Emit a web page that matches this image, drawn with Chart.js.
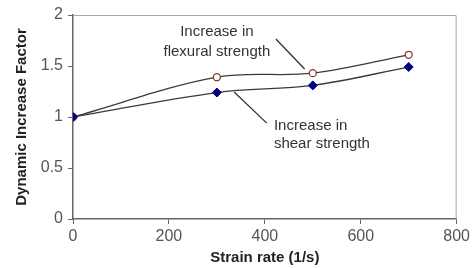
<!DOCTYPE html>
<html>
<head>
<meta charset="utf-8">
<script src="https://cdn.jsdelivr.net/npm/chart.js@4/dist/chart.umd.min.js"></script>
<style>
  html, body { margin: 0; padding: 0; background: #fff; }
  #wrap { width: 473px; height: 268px; }
</style>
</head>
<body>
<div id="wrap"><canvas id="dif" width="473" height="268"></canvas></div>
<script>
// values
const strainRate = [0, 300, 500, 700]
const flexuralDIF = [1, 1.39, 1.43, 1.61]
const shearDIF = [1, 1.24, 1.31, 1.49]
const xTicks = [0, 200, 400, 600, 800]
const yTicks = [0, 0.5, 1, 1.5, 2]

// callout text, anchored in data units
const notes = [
    { lines: ['Increase in', 'flexural strength'], x: 300, y: [1.83, 1.64], align: 'center', leader: [423, 1.765, 483, 1.47] },
    { lines: ['Increase in', 'shear strength'], x: 419, y: [0.91, 0.735], align: 'left', leader: [336, 1.245, 404, 0.94] }
]

const toPoints = (xs, ys) => xs.map((x, i) => ({ x: x, y: ys[i] }))

const notesPlugin = {
    id: 'notes',
    beforeDatasetsDraw(chart) {
        const { ctx, chartArea: a } = chart
        ctx.save()
        // light frame on top and right
        ctx.strokeStyle = '#a8a8a8'
        ctx.lineWidth = 1
        ctx.beginPath()
        ctx.moveTo(a.left, a.top + 0.5)
        ctx.lineTo(a.right - 0.5, a.top + 0.5)
        ctx.lineTo(a.right - 0.5, a.bottom)
        ctx.stroke()
        ctx.restore()
    },
    afterDatasetsDraw(chart) {
        const { ctx, scales: { x, y } } = chart
        ctx.save()
        ctx.font = '15px "Liberation Sans", Arial, sans-serif'
        ctx.fillStyle = '#333'
        ctx.textBaseline = 'middle'
        notes.forEach(n => {
            ctx.textAlign = n.align
            n.lines.forEach((t, i) => ctx.fillText(t, x.getPixelForValue(n.x), y.getPixelForValue(n.y[i])))
            const l = n.leader
            ctx.strokeStyle = '#333'
            ctx.lineWidth = 1.3
            ctx.beginPath()
            ctx.moveTo(x.getPixelForValue(l[0]), y.getPixelForValue(l[1]))
            ctx.lineTo(x.getPixelForValue(l[2]), y.getPixelForValue(l[3]))
            ctx.stroke()
        })
        ctx.restore()
    }
}

const tickFont = { family: '"Liberation Sans", Arial, sans-serif', size: 16 }
const titleFont = { family: '"Liberation Sans", Arial, sans-serif', size: 15, weight: 'bold' }

new Chart(document.getElementById('dif'), {
    type: 'scatter',
    data: {
        datasets: [
            {
                label: 'Increase in shear strength',
                data: toPoints(strainRate, shearDIF),
                showLine: true,
                tension: 0.35,
                borderColor: '#3a3a3a',
                borderWidth: 1.3,
                pointStyle: 'rectRot',
                pointRadius: 4.5,
                pointBackgroundColor: '#000080',
                pointBorderColor: '#000080',
                pointBorderWidth: 1
            },
            {
                label: 'Increase in flexural strength',
                data: toPoints(strainRate, flexuralDIF),
                showLine: true,
                tension: 0.35,
                borderColor: '#3a3a3a',
                borderWidth: 1.3,
                pointStyle: 'circle',
                pointRadius: 3.5,
                pointBackgroundColor: '#fff',
                pointBorderColor: '#8a3b34',
                pointBorderWidth: 1.3
            }
        ]
    },
    options: {
        responsive: false,
        animation: false,
        events: [],
        layout: { padding: { top: 15, right: 14, left: 0, bottom: 0 } },
        plugins: { legend: { display: false }, tooltip: { enabled: false } },
        scales: {
            x: {
                type: 'linear',
                min: 0,
                max: 800,
                afterBuildTicks: s => { s.ticks = xTicks.map(v => ({ value: v })) },
                afterFit: s => { s.height = 49 },
                ticks: { font: tickFont, color: '#555', padding: 3, maxRotation: 0, callback: v => String(v) },
                grid: { drawOnChartArea: false, tickLength: 5, color: '#666' },
                border: { color: '#666', width: 1.5 },
                title: { display: true, text: 'Strain rate (1/s)', font: titleFont, color: '#222', padding: { top: 0, bottom: 1 } }
            },
            y: {
                min: 0,
                max: 2,
                afterBuildTicks: s => { s.ticks = yTicks.map(v => ({ value: v })) },
                afterFit: s => { s.width = 73 },
                ticks: { font: tickFont, color: '#555', padding: 5, callback: v => String(v) },
                grid: { drawOnChartArea: false, tickLength: 5, color: '#666' },
                border: { color: '#666', width: 1.5 },
                title: { display: true, text: 'Dynamic Increase Factor', font: titleFont, color: '#222', padding: { top: 13, bottom: 0 } }
            }
        }
    },
    plugins: [notesPlugin]
})
</script>
</body>
</html>
